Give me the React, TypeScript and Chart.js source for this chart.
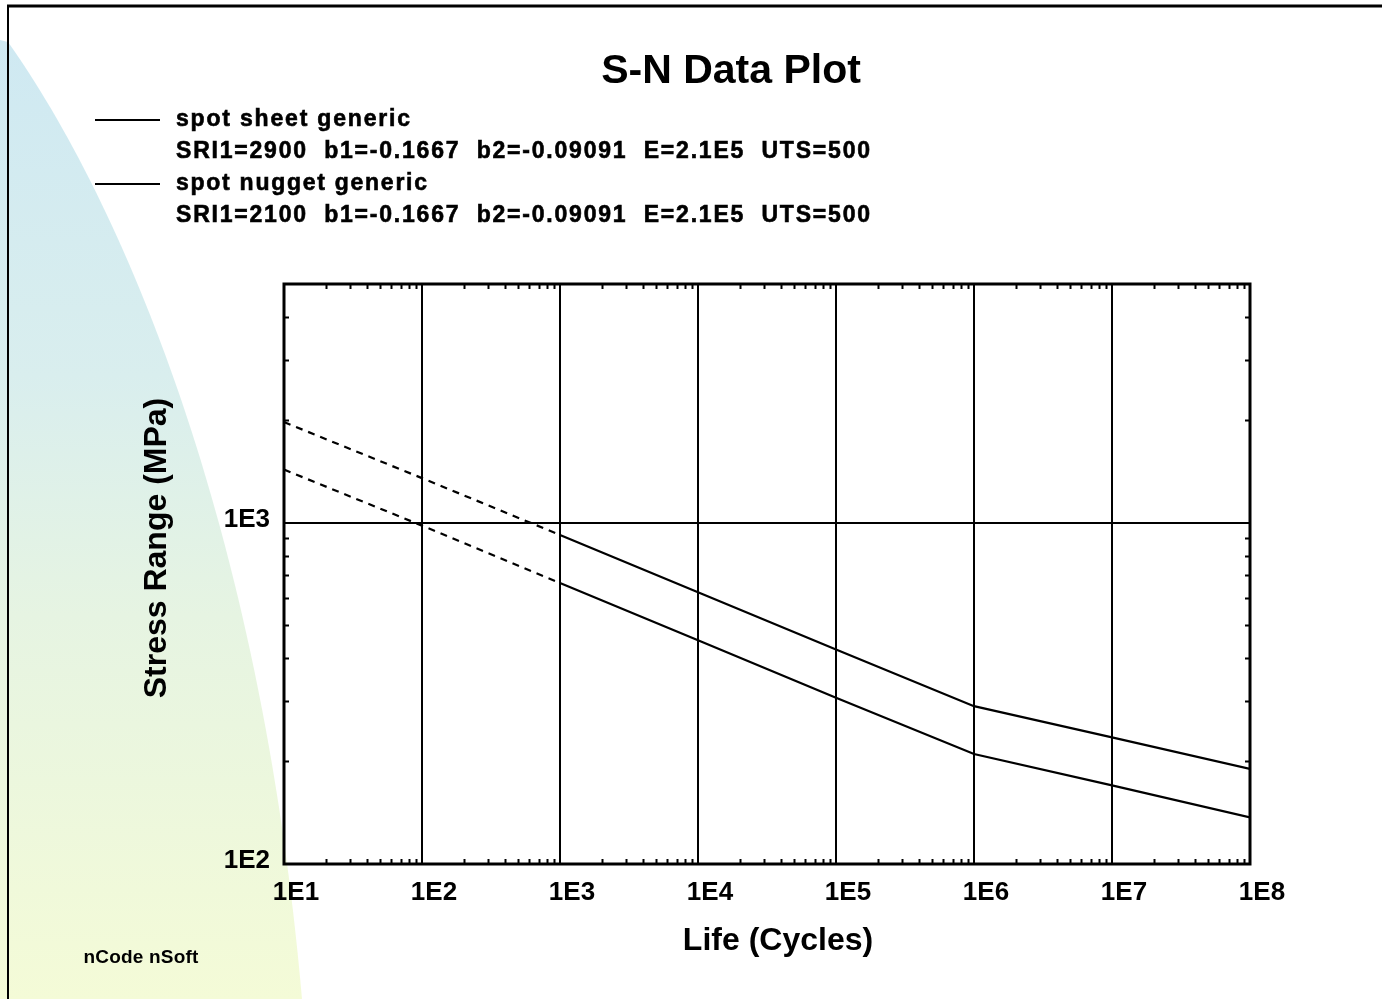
import React, { useEffect, useRef } from "react";
import { Chart, registerables } from "chart.js";

Chart.register(...registerables);

// ---- data ----
const cycles = [1e1, 1e2, 1e3, 1e4, 1e5, 1e6, 1e7, 1e8];
const sheetStress = [1970, 1350, 920, 625, 425, 290, 235, 190];
const nuggetStress = [1430, 980, 665, 452, 307, 210, 170, 137];
const extrapolatedUpTo = 1e3; // curves are dashed below this life

const xTickValues = [1e1, 1e2, 1e3, 1e4, 1e5, 1e6, 1e7, 1e8];
const xTickLabels = ["1E1", "1E2", "1E3", "1E4", "1E5", "1E6", "1E7", "1E8"];
const yTickValues = [100, 1000];
const yTickLabels = ["1E2", "1E3"];
const xMinorTicks = [2, 3, 4, 5, 6, 7, 8, 9];

const seriesNames = ["spot sheet generic", "spot nugget generic"];
const seriesParams = [
  "SRI1=2900  b1=-0.1667  b2=-0.09091  E=2.1E5  UTS=500",
  "SRI1=2100  b1=-0.1667  b2=-0.09091  E=2.1E5  UTS=500",
];

const titleText = "S-N Data Plot";
const xTitle = "Life (Cycles)";
const yTitle = "Stress Range (MPa)";
const footerText = "nCode nSoft";

const FONT = '"Liberation Sans", Arial, Helvetica, sans-serif';

function drawFitted(ctx: CanvasRenderingContext2D, text: string, x: number, y: number, target: number, stroke = 0) {
  (ctx as any).letterSpacing = "0px";
  const w0 = ctx.measureText(text).width;
  const ls = text.length > 1 ? (target - w0) / (text.length - 1) : 0;
  (ctx as any).letterSpacing = ls + "px";
  ctx.fillText(text, x, y);
  if (stroke > 0) {
    ctx.lineWidth = stroke;
    ctx.strokeText(text, x, y);
  }
  (ctx as any).letterSpacing = "0px";
}

const backgroundPlugin = {
  id: "slideBackground",
  beforeDraw(chart: any) {
    const ctx: CanvasRenderingContext2D = chart.ctx;
    const { width, height } = chart;
    ctx.save();
    ctx.fillStyle = "#ffffff";
    ctx.fillRect(0, 0, width, height);
    const g = ctx.createLinearGradient(0, 40, 0, height);
    g.addColorStop(0, "#cfe9f2");
    g.addColorStop(0.35, "#d9eeee");
    g.addColorStop(0.6, "#e6f4e2");
    g.addColorStop(1, "#f4fbd7");
    ctx.fillStyle = g;
    ctx.beginPath();
    ctx.moveTo(0, 40);
    ctx.lineTo(8, 42);
    ctx.bezierCurveTo(120, 200, 260, 520, 302, height);
    ctx.lineTo(0, height);
    ctx.closePath();
    ctx.fill();
    // slide frame
    ctx.strokeStyle = "#000";
    ctx.lineWidth = 3;
    ctx.beginPath();
    ctx.moveTo(7, 6);
    ctx.lineTo(width, 6);
    ctx.stroke();
    ctx.lineWidth = 2;
    ctx.beginPath();
    ctx.moveTo(8, 6);
    ctx.lineTo(8, height);
    ctx.stroke();
    ctx.restore();
  },
};

const overlayPlugin = {
  id: "snOverlay",
  afterDraw(chart: any) {
    const ctx: CanvasRenderingContext2D = chart.ctx;
    const { left, right, top, bottom } = chart.chartArea;
    const xs = chart.scales.x;
    const ys = chart.scales.y;
    ctx.save();
    ctx.strokeStyle = "#000";
    ctx.fillStyle = "#000";

    // minor ticks (inward) on all four sides
    ctx.lineWidth = 2;
    ctx.beginPath();
    for (let k = 1; k < 8; k++) {
      for (const m of xMinorTicks) {
        const v = m * Math.pow(10, k);
        if (v >= xs.max) continue;
        const px = Math.round(xs.getPixelForValue(v)) + 0.5;
        ctx.moveTo(px, bottom);
        ctx.lineTo(px, bottom - 5);
        ctx.moveTo(px, top);
        ctx.lineTo(px, top + 5);
      }
    }
    for (let k = 2; k < 4; k++) {
      for (const m of xMinorTicks) {
        const v = m * Math.pow(10, k);
        if (v >= ys.max) continue;
        const py = Math.round(ys.getPixelForValue(v)) + 0.5;
        ctx.moveTo(left, py);
        ctx.lineTo(left + 5, py);
        ctx.moveTo(right, py);
        ctx.lineTo(right - 5, py);
      }
    }
    ctx.stroke();

    // plot frame
    ctx.lineWidth = 3;
    ctx.strokeRect(left, top, right - left, bottom - top);

    // title
    ctx.textAlign = "center";
    ctx.textBaseline = "middle";
    ctx.font = `bold 41px ${FONT}`;
    ctx.fillText(titleText, 731, 72);

    // legend
    ctx.textAlign = "left";
    ctx.font = `bold 23px ${FONT}`;
    const nameWidths = [234, 251];
    seriesNames.forEach((name, i) => {
      const y0 = 120 + i * 64;
      ctx.lineWidth = 2;
      ctx.beginPath();
      ctx.moveTo(95, y0);
      ctx.lineTo(160, y0);
      ctx.stroke();
      drawFitted(ctx, name, 176, y0, nameWidths[i], 0.6);
      drawFitted(ctx, seriesParams[i], 176, y0 + 32, 694, 0.6);
    });

    // axis titles
    ctx.textAlign = "center";
    ctx.font = `bold 32px ${FONT}`;
    ctx.fillText(xTitle, 778, 941);
    ctx.save();
    ctx.translate(157, 548);
    ctx.rotate(-Math.PI / 2);
    ctx.fillText(yTitle, 0, 0);
    ctx.restore();

    // footer
    ctx.font = `bold 19px ${FONT}`;
    drawFitted(ctx, footerText, 141, 958, 115);
    ctx.restore();
  },
};

function buildDataset(values: number[]) {
  return {
    data: cycles.map((x, i) => ({ x, y: values[i] })),
    borderColor: "#000",
    borderWidth: 2.2,
    pointRadius: 0,
    fill: false,
    tension: 0,
    segment: {
      borderDash: (c: any) => (cycles[c.p1DataIndex] <= extrapolatedUpTo ? [7, 6] : []),
    },
  };
}

export default function App() {
  const ref = useRef<HTMLCanvasElement | null>(null);

  useEffect(() => {
    document.body.style.margin = "0";
    const canvas = ref.current;
    if (!canvas) return;
    const tickFont = { family: FONT, size: 26, weight: "bold" as const };
    const chart = new Chart(canvas, {
      type: "line",
      data: {
        datasets: [buildDataset(sheetStress), buildDataset(nuggetStress)],
      },
      options: {
        responsive: false,
        animation: false,
        events: [],
        layout: { padding: { left: 0, top: 284, right: 132, bottom: 0 } },
        plugins: { legend: { display: false }, tooltip: { enabled: false }, title: { display: false } },
        scales: {
          x: {
            type: "logarithmic",
            min: 10,
            max: 1e8,
            afterBuildTicks: (s: any) => {
              s.ticks = xTickValues.map((value) => ({ value }));
            },
            afterFit: (s: any) => {
              s.height = 135;
            },
            ticks: {
              autoSkip: false,
              maxRotation: 0,
              color: "#000",
              font: tickFont,
              padding: 13,
              labelOffset: 12,
              callback: (_v: any, i: number) => xTickLabels[i],
            },
            grid: { color: "#000", lineWidth: 2, drawTicks: false },
            border: { display: false },
          },
          y: {
            type: "logarithmic",
            min: 100,
            max: 5000,
            afterBuildTicks: (s: any) => {
              s.ticks = yTickValues.map((value) => ({ value }));
            },
            afterFit: (s: any) => {
              s.width = 284;
            },
            ticks: {
              autoSkip: false,
              color: "#000",
              font: tickFont,
              padding: 14,
              labelOffset: -3,
              callback: (_v: any, i: number) => yTickLabels[i],
            },
            grid: { color: "#000", lineWidth: 2, drawTicks: false },
            border: { display: false },
          },
        },
      },
      plugins: [backgroundPlugin, overlayPlugin],
    } as any);
    return () => chart.destroy();
  }, []);

  return (
    <div style={{ width: 1382, height: 999 }}>
      <canvas ref={ref} width={1382} height={999} style={{ display: "block" }} />
    </div>
  );
}
